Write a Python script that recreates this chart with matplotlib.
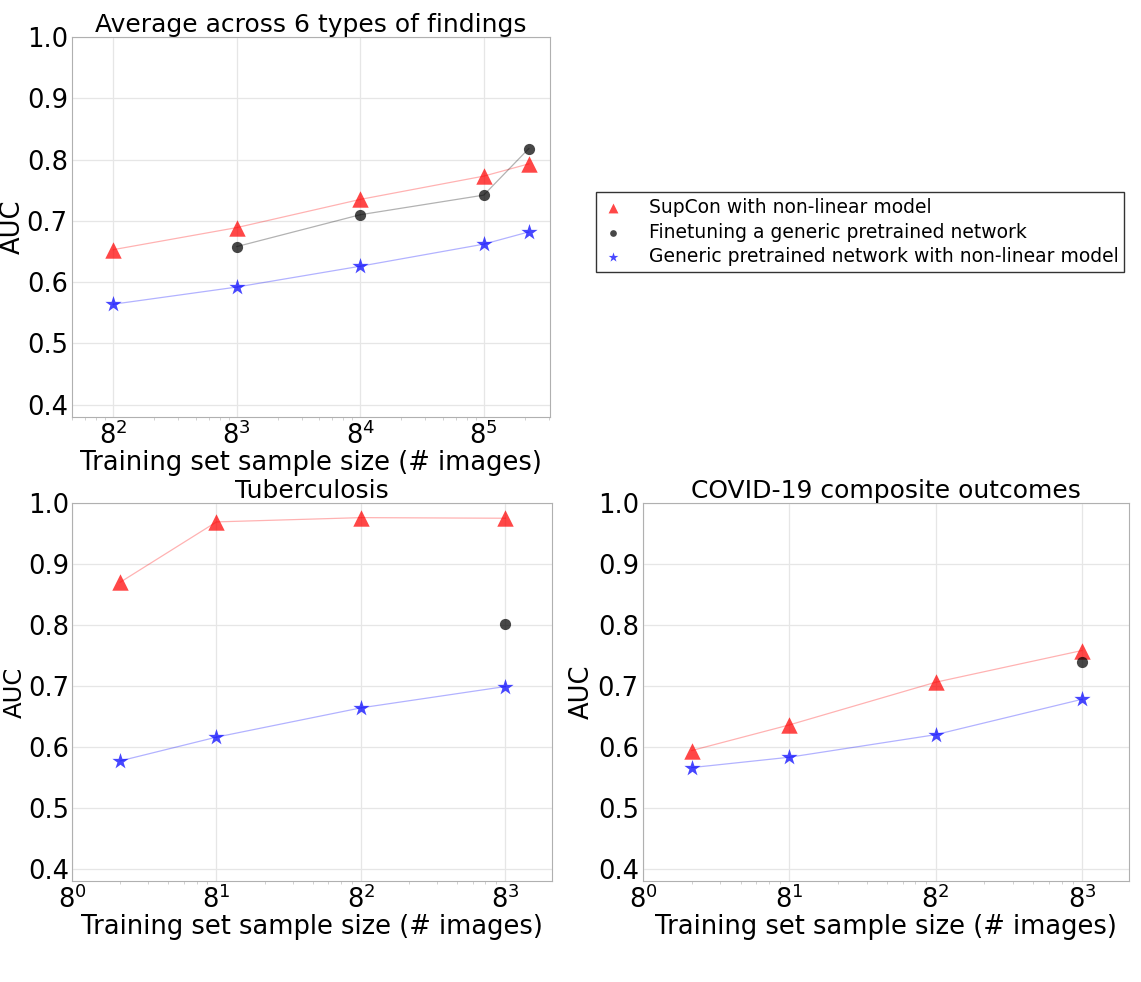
import numpy as np
import matplotlib
matplotlib.use("Agg")
from matplotlib import pyplot as plt
from matplotlib.ticker import LogLocator, NullFormatter

# average across 6 findings
avg_x = [64, 512, 4096, 32768, 70000]
avg_supcon = [0.653, 0.689, 0.735, 0.773, 0.793]
avg_ft_x = [512, 4096, 32768, 70000]
avg_ft = [0.658, 0.710, 0.742, 0.818]
avg_generic = [0.564, 0.592, 0.626, 0.662, 0.682]

# tuberculosis
tb_x = [2, 8, 64, 512]
tb_supcon = [0.870, 0.969, 0.976, 0.975]
tb_ft_x = [512]
tb_ft = [0.801]
tb_generic = [0.577, 0.616, 0.664, 0.699]

# covid-19 composite outcomes
cov_x = [2, 8, 64, 512]
cov_supcon = [0.594, 0.636, 0.706, 0.758]
cov_ft_x = [512]
cov_ft = [0.739]
cov_generic = [0.566, 0.583, 0.620, 0.678]

labels = ["SupCon with non-linear model",
          "Finetuning a generic pretrained network",
          "Generic pretrained network with non-linear model"]

W, H = 1141, 982

def px_axes(fig, x0, y0, x1, y1):
    return fig.add_axes([x0 / W, 1 - y1 / H, (x1 - x0) / W, (y1 - y0) / H])

def draw(ax, x, sup, ftx, ft, gen, title, xlim, ypad=2):
    ax.plot(x, sup, color="red", alpha=0.3, linewidth=0.9, zorder=2)
    ax.plot(ftx, ft, color="black", alpha=0.3, linewidth=0.9, zorder=2)
    ax.plot(x, gen, color="blue", alpha=0.3, linewidth=0.9, zorder=2)
    ax.scatter(x, sup, marker="^", s=140, color="red", alpha=0.72, linewidths=0, label=labels[0], zorder=3)
    ax.scatter(ftx, ft, marker="o", s=65, color="black", alpha=0.72, linewidths=0, label=labels[1], zorder=3)
    ax.scatter(x, gen, marker="*", s=150, color="blue", alpha=0.72, linewidths=0, label=labels[2], zorder=3)

    ax.set_xscale("log", base=8)
    ax.set_xlim(xlim)
    ax.set_ylim(0.38, 1.0)
    ax.set_yticks([0.4, 0.5, 0.6, 0.7, 0.8, 0.9, 1.0])
    ax.xaxis.set_major_locator(LogLocator(base=8))
    ax.xaxis.set_minor_locator(LogLocator(base=8, subs=np.arange(2, 8)))
    ax.xaxis.set_minor_formatter(NullFormatter())
    ax.grid(True, which="major", color="#e6e6e6", linewidth=0.9)
    ax.set_axisbelow(True)
    for sp in ax.spines.values():
        sp.set_color("#b0b0b0")
    ax.tick_params(which="major", length=0, pad=3, labelsize=18.5)
    ax.tick_params(which="minor", length=2, color="#d0d0d0", width=0.7)
    ax.set_title(title, fontsize=18, pad=3)
    ax.set_xlabel("Training set sample size (# images)", fontsize=18.5, labelpad=0)
    ax.set_ylabel("AUC", fontsize=18.5, labelpad=ypad)

fig = plt.figure(figsize=(W / 100, H / 100), dpi=100)

ax1 = px_axes(fig, 72, 37, 550, 417)
draw(ax1, avg_x, avg_supcon, avg_ft_x, avg_ft, avg_generic,
     "Average across 6 types of findings", (32, 1e5), ypad=1)

ax2 = px_axes(fig, 72, 503, 552, 881)
draw(ax2, tb_x, tb_supcon, tb_ft_x, tb_ft, tb_generic, "Tuberculosis", (1, 1000), ypad=0)
ax2.tick_params(axis="y", which="major", pad=2)
# keep the label inside the figure edge and clear of the tick labels
ax2.yaxis.label.set_fontsize(17.5)
ax2.yaxis.label.set_verticalalignment("center")
ax2.yaxis.set_label_coords((14.5 - 72) / 480, 0.5)

ax3 = px_axes(fig, 643, 503, 1129, 881)
draw(ax3, cov_x, cov_supcon, cov_ft_x, cov_ft, cov_generic,
     "COVID-19 composite outcomes", (1, 1000))

h, l = ax1.get_legend_handles_labels()
leg = fig.legend(h, l, loc="center", bbox_to_anchor=(860 / W, 1 - 232 / H),
                 fontsize=13.5, frameon=True, fancybox=False, edgecolor="black",
                 markerscale=0.6, handlelength=1.2, handletextpad=1.3,
                 borderpad=0.3, borderaxespad=0, labelspacing=0.3)
leg.get_frame().set_linewidth(1)

plt.savefig("out.png", dpi=100)
